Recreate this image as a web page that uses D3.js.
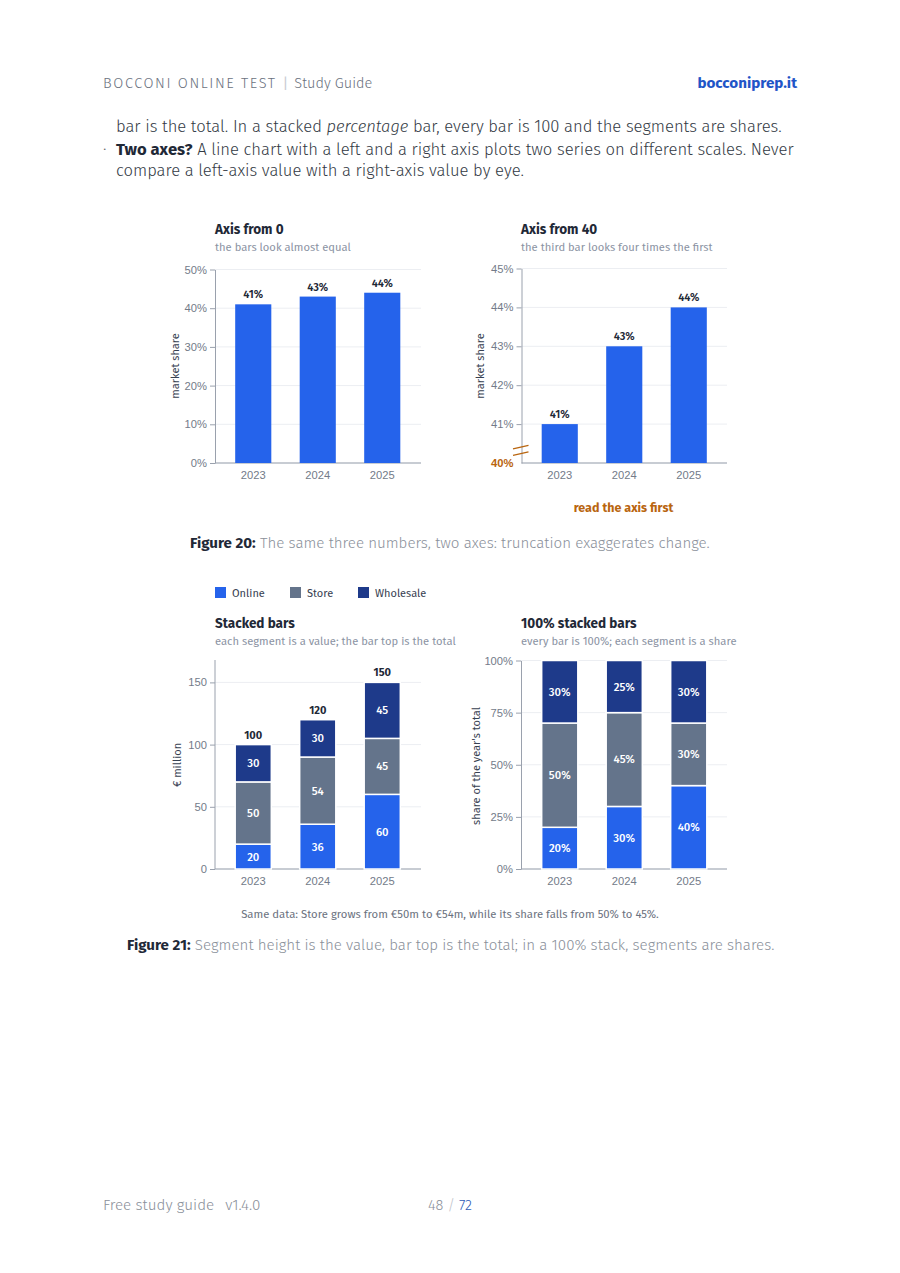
<!DOCTYPE html>
<html><head><meta charset="utf-8">
<script src="https://cdn.jsdelivr.net/npm/d3@7"></script>
<style>
html,body{margin:0;padding:0;background:#fff;}
svg{display:block;font-family:"Fira Sans",Roboto,"Noto Sans",sans-serif;}
</style></head>
<body>
<script>
// ---- data ----
const years = ["2023", "2024", "2025"];
const marketShare = [41, 43, 44];
const shareTicksFull = [0, 10, 20, 30, 40, 50];
const shareTicksCut = [40, 41, 42, 43, 44, 45];
const seriesNames = ["Online", "Store", "Wholesale"];
const online = [20, 36, 60];
const store = [50, 54, 45];
const wholesale = [30, 30, 45];
const totals = [100, 120, 150];
const stackTicks = [0, 50, 100, 150];
const pctTicks = [0, 25, 50, 75, 100];
const colors = ["#2563eb", "#64748b", "#1e3a8a"];

const W = 900, H = 1273;
const svg = d3.select("body").append("svg").attr("width", W).attr("height", H);
svg.append("rect").attr("width", W).attr("height", H).attr("fill", "#fff");

const AXIS = "#9aa1ad", TICK = "#737b89", GRID = "#eceef2", DARK = "#1f2937", SUB = "#8b93a3", ORANGE = "#b9650f";

// ---- header ----
const hdr = svg.append("text").attr("x", 103).attr("y", 88).attr("font-size", 14.5).attr("fill", "#6b7280");
hdr.append("tspan").attr("letter-spacing", 1.6).attr("font-weight", 300).text("BOCCONI ONLINE TEST");
hdr.append("tspan").attr("dx", 6).attr("fill", "#c8ccd3").text("|");
hdr.append("tspan").attr("dx", 6).attr("font-weight", 300).text("Study Guide");
svg.append("text").attr("x", 797).attr("y", 88).attr("text-anchor", "end").attr("font-size", 15.2)
  .attr("font-weight", 700).attr("fill", "#1f55c7").text("bocconiprep.it");

// ---- body text ----
const body = svg.append("g").attr("font-size", 16.6).attr("fill", "#333a44").attr("font-weight", 300);
const l1 = body.append("text").attr("x", 116).attr("y", 132);
l1.append("tspan").text("bar is the total. In a stacked ");
l1.append("tspan").attr("font-style", "italic").text("percentage");
l1.append("tspan").text(" bar, every bar is 100 and the segments are shares.");
body.append("text").attr("x", 103).attr("y", 155).attr("fill", "#666").text("·");
const l2 = body.append("text").attr("x", 116).attr("y", 155);
l2.append("tspan").attr("font-weight", 700).attr("fill", "#1f2937").text("Two axes?");
l2.append("tspan").text(" A line chart with a left and a right axis plots two series on different scales. Never");
body.append("text").attr("x", 116).attr("y", 176).text("compare a left-axis value with a right-axis value by eye.");

// ---- helpers ----
function titleBlock(x, y, title, sub) {
  svg.append("text").attr("x", x).attr("y", y).attr("font-size", 13.5).attr("font-weight", 700).attr("fill", DARK).text(title);
  svg.append("text").attr("x", x).attr("y", y + 17).attr("font-size", 11.2).attr("fill", SUB).text(sub);
}
function yLabel(x, yMid, txt) {
  svg.append("text").attr("transform", `translate(${x},${yMid}) rotate(-90)`).attr("text-anchor", "middle")
    .attr("font-size", 11).attr("fill", "#374151").text(txt);
}
function frame(g, x, y, axisX, axisEnd, ticks, fmt) {
  g.append("g").selectAll("line").data(ticks).join("line")
    .attr("x1", axisX).attr("x2", axisEnd).attr("y1", d => y(d)).attr("y2", d => y(d))
    .attr("stroke", GRID).attr("stroke-width", 1);
  const ya = g.append("g").attr("transform", `translate(${axisX},0)`)
    .call(d3.axisLeft(y).tickValues(ticks).tickFormat(fmt).tickSize(5).tickSizeOuter(0).tickPadding(3));
  ya.select(".domain").attr("stroke", AXIS);
  ya.selectAll(".tick line").attr("stroke", AXIS);
  ya.selectAll(".tick text").attr("fill", TICK).attr("font-size", 11.2).attr("font-family", null);
  const baseY = y.range()[0];
  g.append("line").attr("x1", axisX).attr("x2", axisEnd).attr("y1", baseY).attr("y2", baseY).attr("stroke", AXIS);
  const xa = g.append("g").attr("transform", `translate(0,${baseY})`)
    .call(d3.axisBottom(x).tickSize(0).tickPadding(8));
  xa.select(".domain").remove();
  xa.selectAll(".tick text").attr("fill", TICK).attr("font-size", 11.2).attr("font-family", null);
  return ya;
}
function band(x0, x1) {
  return d3.scaleBand().domain(years).range([x0, x1]).paddingInner(0.44).paddingOuter(0.22);
}

// ---- Figure 20 left: axis from 0 ----
{
  const g = svg.append("g");
  const x = band(221, 414.5);
  const y = d3.scaleLinear().domain([0, 50]).range([463, 269.5]);
  titleBlock(215, 234, "Axis from 0", "the bars look almost equal");
  frame(g, x, y, 215, 421, shareTicksFull, d => d + "%");
  g.selectAll("rect.b").data(marketShare).join("rect").attr("class", "b")
    .attr("x", (d, i) => x(years[i])).attr("width", x.bandwidth())
    .attr("y", d => y(d)).attr("height", d => y(0) - y(d)).attr("fill", colors[0]);
  g.selectAll("text.v").data(marketShare).join("text").attr("class", "v")
    .attr("x", (d, i) => x(years[i]) + x.bandwidth() / 2).attr("y", d => y(d) - 6)
    .attr("text-anchor", "middle").attr("font-size", 11).attr("font-weight", 600).attr("fill", DARK).text(d => d + "%");
  yLabel(179, 366, "market share");
}
// ---- Figure 20 right: axis from 40 ----
{
  const g = svg.append("g");
  const x = band(527.5, 721);
  const y = d3.scaleLinear().domain([40, 45]).range([463, 268.5]);
  titleBlock(521, 234, "Axis from 40", "the third bar looks four times the first");
  const ya = frame(g, x, y, 521.5, 727, shareTicksCut, d => d + "%");
  ya.selectAll(".tick").filter(d => d === 40).select("text")
    .attr("fill", ORANGE).attr("font-weight", 700);
  ya.selectAll(".tick").filter(d => d === 40).select("line").remove();
  g.selectAll("rect.b").data(marketShare).join("rect").attr("class", "b")
    .attr("x", (d, i) => x(years[i])).attr("width", x.bandwidth())
    .attr("y", d => y(d)).attr("height", d => y(40) - y(d)).attr("fill", colors[0]);
  g.selectAll("text.v").data(marketShare).join("text").attr("class", "v")
    .attr("x", (d, i) => x(years[i]) + x.bandwidth() / 2).attr("y", d => y(d) - 6)
    .attr("text-anchor", "middle").attr("font-size", 11).attr("font-weight", 600).attr("fill", DARK).text(d => d + "%");
  const yb = y(40.37);
  [-3.3, 3.3].forEach(off => {
    g.append("line").attr("x1", 513).attr("x2", 528.5).attr("y1", yb + off + 3.5).attr("y2", yb + off)
      .attr("stroke", ORANGE).attr("stroke-width", 1.3);
  });
  yLabel(484, 366, "market share");
  svg.append("text").attr("x", 623.5).attr("y", 512).attr("text-anchor", "middle").attr("font-size", 12.5)
    .attr("font-weight", 700).attr("fill", ORANGE).text("read the axis first");
}
// caption 20
{
  const t = svg.append("text").attr("x", 190).attr("y", 548).attr("font-size", 15.1);
  t.append("tspan").attr("font-weight", 700).attr("fill", DARK).text("Figure 20:");
  t.append("tspan").attr("fill", "#8a909a").attr("font-weight", 300).text(" The same three numbers, two axes: truncation exaggerates change.");
}

// ---- legend ----
{
  const lx = [215, 290, 358];
  const lg = svg.append("g");
  seriesNames.forEach((n, i) => {
    lg.append("rect").attr("x", lx[i]).attr("y", 587).attr("width", 11).attr("height", 11).attr("fill", colors[i]);
    lg.append("text").attr("x", lx[i] + 17).attr("y", 596.5).attr("font-size", 11).attr("fill", "#374151").text(n);
  });
}

// stacked data
const rows = years.map((yr, i) => ({ year: yr, Online: online[i], Store: store[i], Wholesale: wholesale[i] }));
const stack = d3.stack().keys(seriesNames)(rows);
const pctRows = rows.map((r, i) => ({ year: r.year, Online: r.Online / totals[i] * 100, Store: r.Store / totals[i] * 100, Wholesale: r.Wholesale / totals[i] * 100 }));
const pctStack = d3.stack().keys(seriesNames)(pctRows);

function drawStack(g, x, y, st, fmt) {
  st.forEach((layer, li) => {
    const lg = g.append("g");
    lg.selectAll("rect").data(layer).join("rect")
      .attr("x", d => x(d.data.year)).attr("width", x.bandwidth())
      .attr("y", d => y(d[1])).attr("height", d => y(d[0]) - y(d[1]))
      .attr("fill", colors[li]).attr("stroke", "#fff").attr("stroke-width", 1.5);
    lg.selectAll("text").data(layer).join("text")
      .attr("x", d => x(d.data.year) + x.bandwidth() / 2).attr("y", d => (y(d[0]) + y(d[1])) / 2).attr("dy", "0.35em")
      .attr("text-anchor", "middle").attr("font-size", 11.3).attr("font-weight", 500).attr("fill", "#fff")
      .text(d => fmt(d[1] - d[0]));
  });
}
// ---- Figure 21 left ----
{
  const g = svg.append("g");
  const x = band(221, 414.5);
  const y = d3.scaleLinear().domain([0, 168]).range([869, 660]);
  titleBlock(215, 628, "Stacked bars", "each segment is a value; the bar top is the total");
  frame(g, x, y, 215, 421, stackTicks, d => d);
  g.select(".domain").attr("d", `M0,${869}V660`);
  drawStack(g, x, y, stack, d => Math.round(d));
  g.selectAll("text.tot").data(totals).join("text").attr("class", "tot")
    .attr("x", (d, i) => x(years[i]) + x.bandwidth() / 2).attr("y", d => y(d) - 6)
    .attr("text-anchor", "middle").attr("font-size", 11).attr("font-weight", 700).attr("fill", DARK).text(d => d);
  yLabel(181, 765, "€ million");
}
// ---- Figure 21 right ----
{
  const g = svg.append("g");
  const x = band(527.5, 721);
  const y = d3.scaleLinear().domain([0, 100]).range([869, 660.5]);
  titleBlock(521, 628, "100% stacked bars", "every bar is 100%; each segment is a share");
  frame(g, x, y, 521, 727, pctTicks, d => d + "%");
  drawStack(g, x, y, pctStack, d => Math.round(d) + "%");
  yLabel(480, 766, "share of the year's total");
}
svg.append("text").attr("x", 450).attr("y", 918).attr("text-anchor", "middle").attr("font-size", 11.3)
  .attr("fill", "#6b7280").text("Same data: Store grows from €50m to €54m, while its share falls from 50% to 45%.");
{
  const t = svg.append("text").attr("x", 127).attr("y", 950).attr("font-size", 15.1);
  t.append("tspan").attr("font-weight", 700).attr("fill", DARK).text("Figure 21:");
  t.append("tspan").attr("fill", "#8a909a").attr("font-weight", 300).text(" Segment height is the value, bar top is the total; in a 100% stack, segments are shares.");
}

// ---- footer ----
{
  const f = svg.append("text").attr("x", 103).attr("y", 1210).attr("font-size", 15.2).attr("fill", "#8a909a").attr("font-weight", 300);
  f.append("tspan").text("Free study guide");
  f.append("tspan").attr("dx", 11).text("v1.4.0");
  const p = svg.append("text").attr("x", 450).attr("y", 1210).attr("text-anchor", "middle").attr("font-size", 14.5).attr("font-weight", 300);
  p.append("tspan").attr("fill", "#8a909a").text("48 ");
  p.append("tspan").attr("fill", "#c0c4cb").text("/");
  p.append("tspan").attr("fill", "#2f5bb7").text(" 72");
}
</script>
</body></html>
